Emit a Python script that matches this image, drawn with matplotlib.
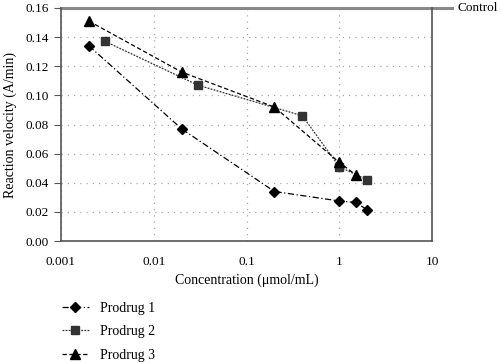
import matplotlib
matplotlib.use("Agg")
import matplotlib.pyplot as plt
from matplotlib.lines import Line2D

plt.rcParams['font.family'] = ['Liberation Serif', 'DejaVu Serif']

p1_x = [0.002, 0.02, 0.2, 1.0, 1.5, 2.0]
p1_y = [0.134, 0.077, 0.034, 0.0275, 0.0265, 0.0215]
p2_x = [0.003, 0.03, 0.4, 1.0, 2.0]
p2_y = [0.137, 0.107, 0.086, 0.051, 0.042]
p3_x = [0.002, 0.02, 0.2, 1.0, 1.5]
p3_y = [0.151, 0.116, 0.092, 0.054, 0.0455]
control = 0.16
labels = ["Prodrug 1", "Prodrug 2", "Prodrug 3"]

fig = plt.figure(figsize=(5, 3.63), dpi=100)
ax = fig.add_axes([0.122, 0.336, 0.742, 0.642])

ax.plot(p1_x, p1_y, color='black', ls=(0, (5, 2, 1, 2)), lw=0.9, marker='D', ms=5)
ax.plot(p2_x, p2_y, color='#333333', ls=(0, (1.5, 1)), lw=0.9, marker='s', ms=5.5)
ax.plot(p3_x, p3_y, color='black', ls=(0, (3.5, 2)), lw=0.9, marker='^', ms=6.5)

ax.set_xscale('log')
ax.set_xlim(0.001, 10)
ax.set_ylim(0, 0.16)
ax.set_yticks([0.00, 0.02, 0.04, 0.06, 0.08, 0.10, 0.12, 0.14, 0.16])
ax.set_yticklabels([f"{v:.2f}" for v in ax.get_yticks()])
ax.set_xticks([0.001, 0.01, 0.1, 1, 10])
ax.set_xticklabels(["0.001", "0.01", "0.1", "1", "10"])
ax.minorticks_off()
ax.tick_params(axis='both', length=0, labelsize=9.5, pad=11)
ax.tick_params(axis='y', length=5, direction='out', color='#555555', pad=4)
ax.grid(True, color='#aaaaaa', ls=(0, (1, 4)), lw=0.9)
for s in ['left', 'bottom', 'right']:
    ax.spines[s].set_color('#555555')
    ax.spines[s].set_linewidth(1.2)
ax.spines['top'].set_visible(False)

ax.plot([0, 1.053], [1, 1], transform=ax.transAxes, color='#888888', lw=2.2, clip_on=False)
ax.text(1.068, 1.0, "Control", transform=ax.transAxes, va='center', ha='left', fontsize=9.5)

ax.set_xlabel("Concentration (μmol/mL)", fontsize=10, labelpad=4)
ax.set_ylabel("Reaction velocity (A/min)", fontsize=10, labelpad=6)

handles = [
    Line2D([], [], color='black', ls=(0, (5, 2, 1, 2)), lw=0.9, marker='D', ms=5),
    Line2D([], [], color='#333333', ls=(0, (1.5, 1)), lw=0.9, marker='s', ms=5.5),
    Line2D([], [], color='black', ls=(0, (3.5, 2)), lw=0.9, marker='^', ms=6.5),
]
fig.legend(handles, labels, loc='upper left', bbox_to_anchor=(0.112, 0.184),
           frameon=False, fontsize=10, handlelength=2.0, labelspacing=0.75,
           handletextpad=0.8, borderaxespad=0)

fig.savefig("out.png", dpi=100)
